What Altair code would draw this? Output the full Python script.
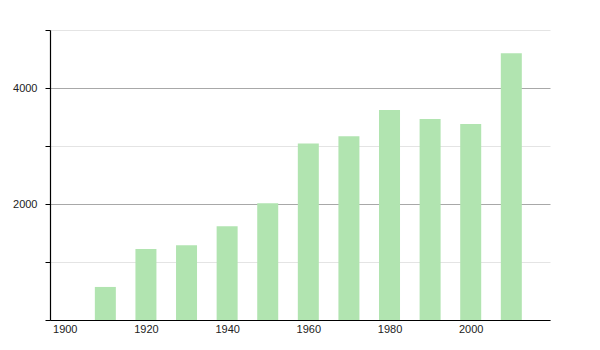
import altair as alt
import pandas as pd

years = [1910, 1920, 1930, 1940, 1950, 1960, 1970, 1980, 1990, 2000, 2010]
values = [570, 1225, 1290, 1615, 2015, 3045, 3170, 3620, 3465, 3380, 4600]
x_ticks = [1900, 1920, 1940, 1960, 1980, 2000]
y_ticks = [0, 1000, 2000, 3000, 4000, 5000]

df = pd.DataFrame({"year": years, "value": values})

font = "Liberation Sans"

chart = alt.Chart(df).mark_bar(size=21, color="#b1e4b0").encode(
    x=alt.X(
        "year:Q",
        scale=alt.Scale(domain=[1897.6, 2018.3], nice=False, zero=False),
        axis=alt.Axis(
            values=x_ticks, format="d", title=None, ticks=False, grid=False,
            domainColor="#000000", domainWidth=1.2, labelFlush=False,
            labelColor="#222222", labelFont=font, labelFontSize=11, labelPadding=3,
        ),
    ),
    y=alt.Y(
        "value:Q",
        scale=alt.Scale(domain=[0, 5000], nice=False),
        axis=alt.Axis(
            values=y_ticks, format="d", title=None,
            labelExpr="datum.value % 2000 === 0 && datum.value > 0 ? datum.label : ''",
            gridColor=alt.condition("datum.value % 2000 === 0", alt.value("#a8a8a8"), alt.value("#e4e4e4")),
            gridWidth=1,
            tickColor="#000000", tickSize=5, domainColor="#000000", domainWidth=1.2,
            labelColor="#222222", labelFont=font, labelFontSize=11, labelPadding=8,
        ),
    ),
).properties(
    width=500,
    height=290,
    autosize=alt.AutoSizeParams(type="none"),
    padding={"left": 50, "top": 30, "right": 50, "bottom": 30},
).configure_view(stroke=None)

chart.save("out.html", embed_options={"renderer": "svg", "actions": False})
